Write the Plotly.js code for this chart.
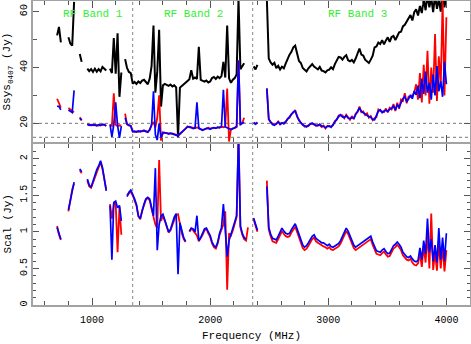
<!DOCTYPE html>
<html>
<head>
<meta charset="utf-8">
<script src="https://cdn.plot.ly/plotly-3.0.1.min.js"></script>
<style>
  html, body { margin: 0; padding: 0; background: #fff; }
  #plot { width: 471px; height: 344px; }
</style>
</head>
<body>
<div id="plot"></div>
<script>
// channel frequencies (MHz), 16 MHz sampling of the band
const freq = [
  704, 720, 736, 752, 768, 784, 800, 816, 832, 848,
  864, 880, 896, 912, 928, 944, 960, 976, 992, 1008,
  1024, 1040, 1056, 1072, 1088, 1104, 1120, 1136, 1152, 1168,
  1184, 1200, 1216, 1232, 1248, 1264, 1280, 1296, 1312, 1328,
  1344, 1360, 1376, 1392, 1408, 1424, 1440, 1456, 1472, 1488,
  1504, 1520, 1536, 1552, 1568, 1584, 1600, 1616, 1632, 1648,
  1664, 1680, 1696, 1712, 1728, 1744, 1760, 1776, 1792, 1808,
  1824, 1840, 1856, 1872, 1888, 1904, 1920, 1936, 1952, 1968,
  1984, 2000, 2016, 2032, 2048, 2064, 2080, 2096, 2112, 2128,
  2144, 2160, 2176, 2192, 2208, 2224, 2240, 2256, 2272, 2288,
  2304, 2320, 2336, 2352, 2368, 2384, 2400, 2416, 2432, 2448,
  2464, 2480, 2496, 2512, 2528, 2544, 2560, 2576, 2592, 2608,
  2624, 2640, 2656, 2672, 2688, 2704, 2720, 2736, 2752, 2768,
  2784, 2800, 2816, 2832, 2848, 2864, 2880, 2896, 2912, 2928,
  2944, 2960, 2976, 2992, 3008, 3024, 3040, 3056, 3072, 3088,
  3104, 3120, 3136, 3152, 3168, 3184, 3200, 3216, 3232, 3248,
  3264, 3280, 3296, 3312, 3328, 3344, 3360, 3376, 3392, 3408,
  3424, 3440, 3456, 3472, 3488, 3504, 3520, 3536, 3552, 3568,
  3584, 3600, 3616, 3632, 3648, 3664, 3680, 3696, 3712, 3728,
  3744, 3760, 3776, 3792, 3808, 3824, 3840, 3856, 3872, 3888,
  3904, 3920, 3936, 3952, 3968, 3984, 4000,
];

// top panel: Ssys (Jy), black trace
const ssysBlack = [
  51.5, 54.5, 49.0, null, null, null, 50.8, 48.6, 47.8, 63.5,
  null, null, 44.8, 42.0, null, null, 39.6, 38.7, 39.4, 38.4,
  39.6, 38.5, 39.4, 38.6, 40.2, 39.7, 38.9, null, 39.6, 38.0,
  50.5, 37.8, 52.2, 29.5, 38.2, null, 43.0, 39.8, 38.4, 38.0,
  34.2, 34.8, 34.1, 35.0, 34.4, 35.3, 35.6, 34.7, 34.0, 36.0,
  40.5, 55.0, 31.0, 38.5, 53.5, 26.0, 33.6, 34.1, 33.7, 33.4,
  33.9, 33.2, 33.6, 32.9, 15.0, 32.8, 33.4, 33.9, 34.7, 35.2,
  35.8, 39.0, 36.0, 36.4, 35.9, 47.4, 35.6, 35.3, 34.9, 35.3,
  34.6, 35.0, 36.2, 36.6, 35.9, 36.7, 36.2, 36.9, 42.0, 36.4,
  55.0, 36.1, 34.5, 35.6, 36.2, 37.5, 64.5, 39.4, 40.6, 41.5,
  null, null, null, null, 40.4, 39.3, 40.9, null, null, null,
  null, 64.5, 43.2, 41.8, 41.0, 41.7, 39.8, 40.6, 39.3, 40.3,
  39.7, 41.5, 43.3, 44.6, 45.6, 47.2, 47.8, 45.0, 42.3, 41.6,
  39.8, 39.2, 38.6, 39.7, 40.3, 41.2, 40.3, 39.9, 39.3, 40.2,
  38.9, 38.7, 38.2, 39.0, 39.2, 40.1, 39.4, 41.2, 42.3, 43.8,
  43.6, 42.8, 43.8, 44.4, 42.6, 42.2, 42.7, 41.8, 43.2, 45.0,
  46.8, 44.6, 44.3, 42.8, 42.3, 41.6, 42.8, 44.2, 47.2, 47.5,
  48.9, 48.4, 49.8, 48.3, 49.7, 50.8, 49.2, 50.9, 51.3, 49.8,
  51.2, 52.6, 52.8, 54.7, 55.3, 56.5, 57.2, 58.8, 56.8, 59.8,
  60.8, 58.6, 62.0, 59.5, 64.5, 60.5, 66.0, 61.5, 65.0, 59.8,
  66.0, 61.0, 64.5, 60.0, 67.0, 61.5, 66.0,
];

// top panel: Ssys (Jy), red and blue traces
const ssysRed = [
  28.8, 27.4, 25.6, null, null, null, 25.5, 24.8, 24.4, 24.0,
  null, null, 22.2, 21.0, null, null, 19.8, 19.5, 19.2, 19.6,
  19.3, 19.4, 19.2, 19.5, 19.4, 19.6, 19.0, null, 19.4, 19.1,
  30.8, 19.5, 19.0, 19.3, 19.2, null, 23.5, 19.6, 19.2, 19.2,
  17.2, 16.9, 17.1, 17.0, 17.3, 17.1, 17.2, 17.3, 17.0, 17.6,
  19.6, 20.5, 18.5, 22.0, 30.0, 13.8, 16.8, 16.5, 16.6, 16.4,
  16.3, 16.4, 16.2, 16.0, 15.7, 16.1, 16.7, 17.6, 18.1, 18.9,
  18.6, 18.6, 18.3, 18.2, 18.5, 18.4, 17.9, 17.7, 17.8, 18.0,
  18.4, 18.1, 18.1, 18.3, 18.4, 18.4, 18.6, 18.7, 18.6, 18.9,
  32.5, 13.5, 17.9, 18.2, 18.3, 18.7, 42.5, 19.4, 20.2, 22.0,
  null, null, null, null, 20.1, 19.9, 20.4, null, null, null,
  null, 32.5, 21.7, 20.3, 19.8, 19.6, 19.7, 20.7, 19.9, 20.0,
  20.1, 20.4, 21.7, 22.0, 23.3, 23.8, 24.8, 22.3, 21.3, 20.1,
  19.6, 18.8, 19.0, 19.0, 19.9, 19.8, 19.8, 19.1, 19.4, 19.4,
  18.7, 19.2, 18.2, 19.1, 18.8, 18.9, 19.3, 20.8, 21.3, 22.8,
  22.7, 22.8, 21.8, 23.1, 22.2, 21.3, 22.6, 21.5, 23.5, 24.0,
  26.0, 24.0, 24.3, 23.0, 23.6, 22.0, 22.6, 21.1, 21.8, 22.2,
  25.0, 24.4, 24.3, 24.0, 25.3, 23.9, 25.6, 25.0, 26.9, 24.4,
  27.4, 25.2, 28.5, 28.0, 30.8, 27.2, 29.6, 29.4, 30.0, 31.0,
  34.0, 28.5, 38.0, 27.5, 41.0, 30.0, 46.0, 27.0, 40.0, 31.0,
  52.0, 28.0, 44.0, 33.0, 64.0, 30.0, 58.0,
];
const ssysBlue = [
  26.2, 26.0, 24.8, null, null, null, 24.8, 24.3, 23.9, 31.8,
  null, null, 21.8, 21.2, null, null, 19.6, 19.3, 19.5, 19.3,
  19.5, 19.1, 19.5, 19.2, 19.7, 19.4, 19.2, null, 19.6, 15.2,
  19.5, 27.5, 19.3, 14.8, 19.0, null, 22.0, 19.8, 19.4, 19.0,
  17.0, 17.2, 16.9, 17.3, 17.0, 17.3, 17.5, 17.0, 16.8, 17.8,
  19.3, 31.5, 16.0, 14.0, 20.0, 15.0, 16.6, 16.7, 16.4, 16.2,
  16.5, 16.2, 16.0, 15.8, 15.5, 16.3, 16.9, 17.4, 18.3, 18.7,
  18.8, 18.4, 18.1, 18.4, 27.5, 18.2, 17.8, 17.5, 17.9, 18.2,
  18.2, 17.9, 18.3, 18.5, 18.2, 18.6, 18.4, 18.9, 32.0, 18.7,
  18.4, 18.1, 17.8, 18.1, 18.4, 18.9, 42.5, 19.6, 20.0, 20.4,
  null, null, null, null, 20.3, 19.7, 20.2, null, null, null,
  null, 32.5, 21.4, 20.6, 19.6, 19.3, 19.9, 20.5, 19.6, 20.2,
  19.8, 20.6, 21.4, 22.3, 22.9, 24.1, 24.4, 22.6, 21.0, 20.3,
  19.4, 19.1, 18.7, 19.3, 19.7, 20.1, 19.5, 19.4, 19.1, 19.7,
  19.0, 18.9, 18.4, 18.9, 19.1, 18.6, 19.6, 20.4, 21.6, 22.4,
  23.1, 22.3, 22.1, 22.7, 21.9, 21.6, 22.1, 21.8, 23.1, 24.4,
  25.5, 24.3, 23.8, 23.4, 23.1, 22.4, 22.2, 21.4, 21.3, 22.6,
  24.4, 24.9, 23.8, 24.4, 24.7, 24.3, 25.1, 25.4, 26.2, 24.8,
  26.6, 25.8, 27.6, 28.8, 29.6, 27.9, 28.7, 30.2, 28.8, 31.6,
  30.2, 33.5, 29.0, 36.0, 30.5, 38.5, 31.0, 34.5, 28.5, 37.5,
  30.0, 40.5, 31.5, 35.0, 29.5, 42.0, 34.0,
];

// bottom panel: Scal (Jy), red and blue traces
const scalRed = [
  1.08, 0.96, 0.89, null, null, null, 1.28, 1.45, 1.58, 1.66,
  null, null, 1.84, 1.80, null, null, 1.70, 1.62, 1.60, 1.67,
  1.76, 1.83, 1.89, 1.95, 1.86, 1.72, 1.58, null, 1.38, 1.18,
  1.38, 1.40, 0.72, 1.34, 0.96, null, null, 1.50, 1.52, 1.55,
  1.50, 1.44, 1.36, 1.21, 1.17, 1.29, 1.37, 1.44, 1.46, 1.43,
  1.31, 1.20, 1.10, 1.05, 1.98, 1.15, 1.22, 1.15, 1.08, 0.99,
  1.02, 1.10, 1.18, 1.23, 1.24, 1.10, 0.98, 0.90, 0.86, null,
  1.00, 1.04, 1.02, 0.98, 0.95, 0.87, 0.91, 0.96, 1.02, 1.04,
  0.98, 0.93, 0.84, 0.79, 0.77, 0.84, 0.96, 1.04, 1.10, 1.28,
  0.21, 0.98, 0.95, 1.02, 1.10, 1.20, 2.30, 1.06, 0.96, 0.90,
  0.88, 1.06, null, null, 1.17, 1.08, 1.00, null, null, null,
  null, 1.70, 1.03, 0.94, 0.87, 0.86, 0.85, 0.90, 0.96, 1.01,
  0.97, 0.94, 0.93, 0.94, 0.99, 1.03, 1.07, 1.00, 0.93, 0.85,
  0.78, 0.75, 0.77, 0.81, 0.86, 0.90, 0.92, 0.87, 0.85, 0.83,
  0.81, 0.80, 0.79, 0.77, 0.79, 0.76, 0.75, 0.77, 0.78, 0.80,
  0.84, 0.90, 0.96, 1.01, 0.97, 0.90, 0.83, 0.78, 0.75, 0.77,
  0.79, 0.81, 0.83, 0.84, 0.86, 0.88, 0.90, 0.82, 0.75, 0.70,
  0.69, 0.68, 0.71, 0.73, 0.69, 0.66, 0.67, 0.73, 0.77, 0.79,
  0.82, 0.79, 0.75, 0.68, 0.65, 0.62, 0.61, 0.63, 0.58, 0.55,
  0.54, 0.57, 0.70, 0.52, 0.80, 0.58, 1.00, 0.50, 1.25, 0.48,
  0.72, 0.47, 0.86, 0.50, 0.80, 0.46, 0.75,
];
const scalBlue = [
  1.06, 0.97, 0.90, null, null, null, 1.30, 1.44, 1.56, 1.68,
  null, null, 1.86, 1.82, null, null, 1.72, 1.64, 1.61, 1.69,
  1.78, 1.85, 1.90, 1.97, 1.88, 1.74, 1.56, null, 1.36, 0.62,
  1.40, 1.42, 1.33, 1.36, 1.15, null, null, 1.48, 1.54, 1.57,
  1.52, 1.45, 1.37, 1.22, 1.18, 1.30, 1.38, 1.45, 1.47, 1.45,
  1.33, 1.22, 1.87, 0.75, 1.10, 1.22, 1.24, 1.16, 1.10, 1.00,
  1.03, 1.12, 1.20, 1.25, 0.42, 1.12, 1.00, 0.92, 0.87, null,
  1.01, 1.05, 1.04, 1.00, 1.22, 0.88, 0.92, 0.98, 1.04, 1.05,
  1.00, 0.95, 0.86, 0.81, 0.79, 0.86, 0.98, 1.06, 1.38, 1.05,
  0.66, 0.88, 0.96, 1.04, 1.12, 1.22, 2.30, 1.08, 0.98, 0.92,
  0.90, null, null, null, 1.19, 1.10, 1.02, null, null, null,
  null, 1.62, 1.06, 0.97, 0.91, 0.90, 0.89, 0.94, 1.00, 1.05,
  1.01, 0.98, 0.97, 0.98, 1.03, 1.07, 1.11, 1.04, 0.97, 0.89,
  0.82, 0.79, 0.81, 0.85, 0.90, 0.94, 0.96, 0.91, 0.89, 0.87,
  0.85, 0.85, 0.83, 0.81, 0.83, 0.80, 0.79, 0.81, 0.82, 0.84,
  0.88, 0.94, 1.00, 1.05, 1.01, 0.94, 0.87, 0.82, 0.79, 0.81,
  0.83, 0.85, 0.87, 0.88, 0.90, 0.92, 0.94, 0.86, 0.79, 0.74,
  0.73, 0.72, 0.75, 0.77, 0.73, 0.70, 0.71, 0.77, 0.81, 0.83,
  0.86, 0.83, 0.79, 0.72, 0.69, 0.66, 0.65, 0.67, 0.63, 0.60,
  0.59, 0.61, 0.78, 0.62, 0.88, 0.70, 1.18, 0.72, 0.90, 0.60,
  0.82, 0.58, 1.05, 0.62, 0.92, 0.60, 0.98,
];

// band edges and reference levels
const bandEdges = [1344, 2360];
const refLevels = [15, 20];
const bandLabels = ["RF Band 1", "RF Band 2", "RF Band 3"];
const bandLabelFreq = [1010, 1860, 3250];
const bandLabelLevel = 59.2;

const mono = "Liberation Mono, DejaVu Sans Mono, monospace";
const frameGrey = "#a3a3a3";
const tickGrey = "#555";

function line(x, y, color, xa, ya, w) {
  return {
    x: x, y: y, type: "scatter", mode: "lines",
    xaxis: xa, yaxis: ya, hoverinfo: "skip",
    line: { color: color, width: w },
    connectgaps: false,
  };
}

const traces = [
  line(freq, ssysBlack, "#000000", "x2", "y", 2.0),
  line(freq, ssysRed, "#ff0000", "x2", "y", 1.8),
  line(freq, ssysBlue, "#0000ff", "x2", "y", 1.7),
  line(freq, scalRed, "#ff0000", "x", "y2", 1.8),
  line(freq, scalBlue, "#0000ff", "x", "y2", 1.7),
];

const axisCommon = {
  showline: true, linecolor: frameGrey, linewidth: 2, mirror: "ticks",
  ticks: "inside", tickcolor: tickGrey, tickwidth: 1,
  showgrid: false, zeroline: false, fixedrange: true,
  tickfont: { family: mono, size: 10, color: "#000" },
};

const shapes = [];
bandEdges.forEach((f) => {
  shapes.push({
    type: "line", xref: "x", yref: "paper", x0: f, x1: f, y0: 0, y1: 1,
    line: { color: "#888", width: 1, dash: "dot" }, layer: "below",
  });
});
refLevels.forEach((v) => {
  shapes.push({
    type: "line", xref: "paper", yref: "y", x0: 0, x1: 1, y0: v, y1: v,
    line: { color: "#777", width: 1, dash: "dot" }, layer: "below",
  });
});

const annotations = bandLabels.map((t, i) => ({
  text: t, xref: "x2", yref: "y", x: bandLabelFreq[i], y: bandLabelLevel,
  showarrow: false, font: { family: mono, size: 11, color: "#33ee33" },
}));
annotations.push(
  {
    text: "Ssys<sub>0407</sub> (Jy)", xref: "paper", yref: "paper",
    x: 0, y: 0.768, xanchor: "center", yanchor: "middle", xshift: -25,
    textangle: -90, showarrow: false,
    font: { family: mono, size: 11, color: "#000" },
  },
  {
    text: "Scal (Jy)", xref: "paper", yref: "paper",
    x: 0, y: 0.265, xanchor: "center", yanchor: "middle", xshift: -25,
    textangle: -90, showarrow: false,
    font: { family: mono, size: 11, color: "#000" },
  },
  {
    text: "Frequency (MHz)", xref: "paper", yref: "paper",
    x: 0.5, y: 0, xanchor: "center", yanchor: "middle", yshift: -31,
    showarrow: false,
    font: { family: mono, size: 11, color: "#000" },
  },
);

const layout = {
  width: 471, height: 344,
  margin: { l: 33, r: 1, t: 1, b: 39 },
  paper_bgcolor: "#fff", plot_bgcolor: "#fff",
  showlegend: false,
  xaxis: Object.assign({}, axisCommon, {
    anchor: "y2", range: [500, 4200], dtick: 1000, tick0: 0, ticklen: 7,
    minor: { dtick: 200, ticks: "inside", ticklen: 4, tickcolor: tickGrey },
    ticklabelstandoff: 4,
  }),
  xaxis2: Object.assign({}, axisCommon, {
    anchor: "y", matches: "x", range: [500, 4200], dtick: 1000, tick0: 0, ticklen: 7,
    minor: { dtick: 200, ticks: "inside", ticklen: 4, tickcolor: tickGrey },
    showticklabels: false,
  }),
  yaxis: Object.assign({}, axisCommon, {
    anchor: "x2", domain: [0.536, 1], range: [13.3, 63.8],
    dtick: 20, tick0: 0, ticklen: 6, tickangle: -90,
    minor: { dtick: 10, ticks: "inside", ticklen: 4, tickcolor: tickGrey },
  }),
  yaxis2: Object.assign({}, axisCommon, {
    anchor: "x", domain: [0, 0.5296], range: [0, 2.2],
    dtick: 0.5, tick0: 0, ticklen: 6, tickangle: -90,
    minor: { dtick: 0.1, ticks: "inside", ticklen: 3, tickcolor: tickGrey },
  }),
  shapes: shapes,
  annotations: annotations,
};

Plotly.newPlot("plot", traces, layout, { staticPlot: true, displayModeBar: false });
</script>
</body>
</html>
